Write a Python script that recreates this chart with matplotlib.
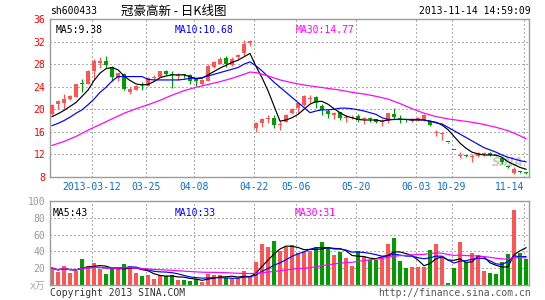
import matplotlib
matplotlib.use('Agg')
import matplotlib.pyplot as plt
from matplotlib.patches import Rectangle
import numpy as np
import pandas as pd

# ---------------- data ----------------
opens = [19.2, 21.0, 21.2, 21.8, 22.2, 24.5, 24.5, 26.8, 28.2, 28.5,
         27.5, 25.6, 26.2, 23.1, 23.5, 24.5, 24.2, 25.5, 25.8, 26.8,
         26.3, 25.9, 26.2, 26.1, 25.3, 24.5, 25.1, 27.5, 28.1, 29.0,
         27.9, 29.2, 29.9, 31.7, 16.7, 17.5, 18.3, 18.5, 17.2, 17.8,
         19.3, 20.3, 20.8, 21.9, 22.2, 20.6, 19.7, 18.9, 19.5, 18.4,
         18.5, 18.8, 18.2, 18.3, 18.2, 17.8, 17.9, 19.2, 18.4, 18.2,
         18.0, 18.3, 18.2, 17.9, 15.8, 15.7, 14.25, 12.85, 11.7, 11.8,
         11.5, 11.8, 12.1, 12.3, 11.9, 11.4, 9.9, 8.7, 9.0, 8.8]
highs = [20.9, 21.6, 22.7, 22.6, 24.5, 25.4, 26.9, 28.9, 29.3, 29.4,
         27.6, 26.5, 26.5, 24.0, 24.3, 24.8, 25.7, 26.0, 26.8, 26.9,
         26.8, 26.4, 26.3, 26.2, 25.6, 25.4, 28.0, 28.5, 29.3, 29.4,
         29.2, 29.8, 32.2, 32.2, 17.7, 18.5, 19.0, 19.0, 17.9, 19.2,
         20.2, 21.3, 22.5, 22.6, 22.4, 20.9, 20.0, 19.6, 19.6, 19.0,
         19.0, 19.1, 18.6, 18.6, 18.3, 18.2, 19.4, 20.2, 18.9, 18.3,
         18.4, 18.6, 19.1, 18.0, 16.4, 16.0, 14.25, 12.85, 12.4, 11.9,
         12.1, 12.5, 12.5, 12.4, 11.9, 11.6, 10.1, 9.8, 9.1, 8.9]
lows = [19.0, 20.1, 20.0, 21.6, 22.1, 23.0, 24.4, 25.4, 27.3, 27.4,
        25.0, 25.1, 23.4, 22.7, 23.4, 23.5, 24.2, 25.2, 25.7, 26.1,
        23.8, 25.2, 25.6, 24.5, 24.2, 24.3, 25.0, 27.4, 28.0, 27.5,
        27.7, 28.9, 29.5, 31.2, 15.9, 16.9, 17.5, 16.6, 16.4, 17.7,
        19.2, 19.4, 20.6, 21.2, 20.3, 18.9, 18.5, 18.3, 18.1, 17.8,
        18.2, 17.7, 17.4, 17.7, 17.5, 17.1, 17.6, 18.2, 17.5, 17.7,
        17.7, 18.0, 18.0, 17.0, 15.2, 14.6, 14.1, 12.75, 11.3, 11.5,
        10.6, 11.5, 11.8, 11.8, 11.7, 10.3, 9.6, 8.6, 8.7, 8.6]
closes = [20.8, 21.4, 21.8, 22.4, 24.4, 24.4, 26.8, 28.5, 28.6, 27.9,
          25.8, 26.4, 23.6, 23.6, 24.2, 24.3, 25.5, 25.8, 26.7, 26.2,
          26.0, 26.1, 26.0, 25.1, 25.1, 25.2, 27.7, 28.4, 29.0, 28.0,
          28.9, 29.6, 31.5, 32.1, 17.6, 18.2, 18.5, 17.3, 17.3, 19.0,
          20.1, 21.1, 22.4, 22.0, 21.2, 19.9, 19.1, 19.4, 18.5, 18.6,
          18.6, 18.1, 18.3, 18.2, 17.8, 17.9, 19.3, 18.6, 18.3, 18.1,
          18.1, 18.4, 19.0, 17.2, 16.0, 15.8, 14.15, 12.8, 11.8, 11.7,
          11.6, 12.2, 12.2, 11.9, 11.8, 10.6, 9.8, 9.5, 8.9, 8.7]

ma5 = [18.7, 19.2, 19.8, 20.5, 21.2, 22.3, 23.4, 25.1, 26.4, 27.2,
       27.4, 27.0, 25.9, 25.1, 24.5, 24.3, 24.4, 24.9, 25.6, 25.9,
       26.1, 26.1, 26.1, 25.8, 25.4, 25.5, 26.1, 26.7, 27.3, 27.8,
       28.3, 28.7, 29.3, 29.9, 27.6, 25.6, 23.3, 20.6, 17.9, 18.1,
       18.5, 19.1, 20.0, 20.9, 21.4, 21.4, 20.9, 20.1, 19.4, 18.8,
       18.5, 18.2, 18.1, 18.1, 18.1, 17.9, 18.1, 18.2, 18.2, 18.2,
       18.1, 18.1, 18.1, 17.9, 17.7, 17.2, 16.4, 15.2, 14.0, 13.1,
       12.4, 12.1, 11.9, 11.9, 11.9, 11.5, 10.7, 10.2, 9.7, 9.38]
ma10 = [17.1, 17.5, 18.0, 18.6, 19.3, 19.9, 20.8, 21.8, 23.0, 23.9,
        25.0, 25.8, 25.8, 25.8, 25.8, 25.8, 25.3, 25.2, 25.2, 25.2,
        25.2, 25.2, 25.3, 25.5, 25.5, 25.6, 25.9, 26.2, 26.5, 26.8,
        27.1, 27.4, 28.0, 28.4, 27.7, 26.8, 25.8, 24.8, 23.9, 23.0,
        22.1, 21.2, 20.3, 19.4, 19.7, 19.9, 19.9, 20.0, 20.2, 20.2,
        20.1, 19.9, 19.7, 19.4, 19.1, 18.5, 18.2, 18.2, 18.2, 18.2,
        18.2, 18.2, 18.1, 17.9, 17.6, 17.4, 16.8, 16.2, 15.6, 15.0,
        14.4, 13.8, 13.2, 12.8, 12.4, 11.9, 11.5, 11.2, 10.9, 10.68]
ma30_idx = [0, 2, 4, 6, 8, 10, 12, 14, 16, 18, 20, 22, 24, 26, 28, 30, 32, 33,
            34, 36, 38, 40, 42, 44, 46, 48, 50, 52, 54, 56, 58, 60, 62, 64,
            66, 68, 70, 72, 74, 76, 78, 79]
ma30_val = [13.6, 14.3, 15.2, 16.3, 17.3, 18.3, 19.3, 20.1, 20.8, 21.6, 22.5,
            23.3, 23.9, 24.4, 24.9, 25.5, 26.2, 26.6, 26.5, 25.9, 25.2, 24.7,
            24.3, 24.0, 23.7, 23.4, 23.0, 22.7, 22.3, 21.8, 21.0, 20.1, 19.3,
            18.7, 18.3, 18.0, 17.7, 17.3, 16.8, 16.2, 15.3, 14.77]

volumes = [20.2, 15.8, 22.6, 14.7, 16.6, 30.9, 22.6, 26.5, 19.0, 13.1,
           19.8, 19.0, 24.9, 22.6, 14.7, 10.7, 11.9, 7.1, 12.5, 10.7,
           11.9, 5.9, 5.9, 4.8, 7.1, 4.0, 13.1, 11.9, 11.9, 7.9,
           7.5, 7.9, 16.6, 9.9, 27.7, 48.7, 45.5, 52.3, 40.0, 45.0,
           47.5, 38.5, 39.6, 41.0, 45.0, 51.3, 45.0, 35.6, 39.6, 32.6,
           23.0, 40.5, 33.7, 29.8, 29.8, 33.7, 48.8, 55.6, 28.6, 20.6,
           21.8, 21.8, 21.8, 41.7, 48.8, 33.7, 2.8, 19.9, 50.8, 27.0,
           37.7, 35.7, 16.7, 14.7, 12.7, 27.0, 36.9, 89.3, 37.7, 31.0]

date_idx = [7, 16, 24, 34, 41, 51, 61, 67, 79]
date_labels = ['2013-03-12', '03-25', '04-08', '04-22', '05-06',
               '05-20', '06-03', '10-29', '11-14']
price_ticks = [8, 12, 16, 20, 24, 28, 32, 36]
vol_ticks = [20, 40, 60, 80, 100]

# ---------------- style ----------------
W, H = 545, 300
RED = '#FF5454'
GREEN = '#009C00'
GRID = '#ADADAD'
SPINE = '#9C9C9C'
MONO = 'DejaVu Sans Mono'
FS = 7
LW = 0.85

fig = plt.figure(figsize=(W / 100, H / 100), dpi=100)
fig.patch.set_facecolor('white')


def rect(x0, y0, x1, y1):
    return [x0 / W, 1 - y1 / H, (x1 - x0) / W, (y1 - y0) / H]


def ftext(x, y, s, **kw):
    kw.setdefault('family', MONO)
    kw.setdefault('fontsize', FS)
    kw.setdefault('va', 'center')
    fig.text(x / W, 1 - y / H, s, **kw)


ax = fig.add_axes(rect(50, 19, 529, 177))
axv = fig.add_axes(rect(50, 201, 529, 285), sharex=ax)

n = len(closes)
idx = np.arange(n)
XL = (-1 / 3, 79.5)
grid_x = [d - 1 / 3 for d in date_idx]

for a in (ax, axv):
    a.set_xlim(*XL)
    for s in a.spines.values():
        s.set_color(SPINE)
        s.set_linewidth(1.0)
    a.tick_params(length=0)
    a.set_axisbelow(True)
    a.grid(True, color=GRID, linestyle=(0, (1.4, 2.8)), linewidth=0.75,
           antialiased=False)

# ---------- candles ----------
bw = 0.83
for i in range(n):
    o, h, l, c = opens[i], highs[i], lows[i], closes[i]
    col = RED if c >= o else GREEN
    ax.vlines(i, l, h, color=col, linewidth=0.8, zorder=2)
    lo = min(o, c)
    ht = max(abs(c - o), 0.17)
    ax.add_patch(Rectangle((i - bw / 2, lo), bw, ht, facecolor=col,
                           edgecolor='none', zorder=3, antialiased=False))

ax.plot(idx, ma5, color='black', lw=LW, zorder=4)
ax.plot(idx, ma10, color='#0000FF', lw=LW, zorder=4)
ax.plot(ma30_idx, ma30_val, color='#FF00FF', lw=LW, zorder=4)

ax.set_ylim(8, 36)
ax.set_yticks(price_ticks)
ax.set_yticklabels([str(t) for t in price_ticks], family=MONO,
                   fontsize=FS, color='#FF0000')
ax.tick_params(axis='y', pad=3.5)
ax.set_xticks(grid_x)
ax.set_xticklabels(date_labels, family=MONO, fontsize=FS, color='#0A6EC8')
ax.tick_params(axis='x', pad=3.5)
lbls = ax.get_xticklabels()
lbls[-1].set_horizontalalignment('right')

ax.text(0.012, 0.93, 'MA5:9.38', transform=ax.transAxes, family=MONO,
        fontsize=FS, color='black', va='center')
ax.text((175 - 50) / 479, 0.93, 'MA10:10.68', transform=ax.transAxes,
        family=MONO, fontsize=FS, color='#0000FF', va='center')
ax.text((296 - 50) / 479, 0.93, 'MA30:14.77', transform=ax.transAxes,
        family=MONO, fontsize=FS, color='#FF00FF', va='center')
# faint SINA watermark
ax.text((508 - 50) / 479, (177 - 163) / 158, 'SINA', transform=ax.transAxes,
        fontsize=8.5, fontweight='bold', style='italic', color='#C8C8C8',
        ha='center', va='center', family='DejaVu Sans', zorder=1)

# ---------- volume ----------
vcols = [RED if closes[i] >= opens[i] else GREEN for i in range(n)]
axv.bar(idx, volumes, width=bw, color=vcols, zorder=2, antialiased=False)
vs = pd.Series(volumes)
axv.plot(idx, vs.rolling(5, min_periods=1).mean(), color='black', lw=LW, zorder=4)
axv.plot(idx, vs.rolling(10, min_periods=1).mean(), color='#0000FF', lw=LW, zorder=4)
axv.plot(idx, vs.rolling(30, min_periods=1).mean(), color='#FF00FF', lw=LW, zorder=4)
axv.set_ylim(0, 100)
axv.set_yticks(vol_ticks)
axv.set_yticklabels([str(t) for t in vol_ticks], family=MONO, fontsize=FS,
                    color='#999999')
axv.tick_params(axis='y', pad=3.5)
axv.tick_params(axis='x', labelbottom=False)
axv.text(0.006, 0.86, 'MA5:43', transform=axv.transAxes, family=MONO,
         fontsize=FS, color='black', va='center')
axv.text((175 - 50) / 479, 0.86, 'MA10:33', transform=axv.transAxes,
         family=MONO, fontsize=FS, color='#0000FF', va='center')
axv.text((295 - 50) / 479, 0.86, 'MA30:31', transform=axv.transAxes,
         family=MONO, fontsize=FS, color='#FF00FF', va='center')

# ---------- header / footer ----------
ftext(50, 11, 'sh600433', color='black', ha='left')
ftext(121, 11, '冠豪高新 - 日K线图', color='black', ha='left',
      family=['Noto Sans CJK SC', 'DejaVu Sans'], fontsize=9)
ftext(531, 11, '2013-11-14 14:59:09', color='black', ha='right')
ftext(45, 286, 'x万', color='#AAAAAA', ha='right',
      family=['DejaVu Sans Mono', 'Noto Sans CJK SC'], fontsize=FS)
ftext(50, 293, 'Copyright 2013 SINA.COM', color='#333333', ha='left')
ftext(531, 293, 'http://finance.sina.com.cn', color='#555555', ha='right')

fig.savefig('out.png', dpi=100, facecolor='white')
